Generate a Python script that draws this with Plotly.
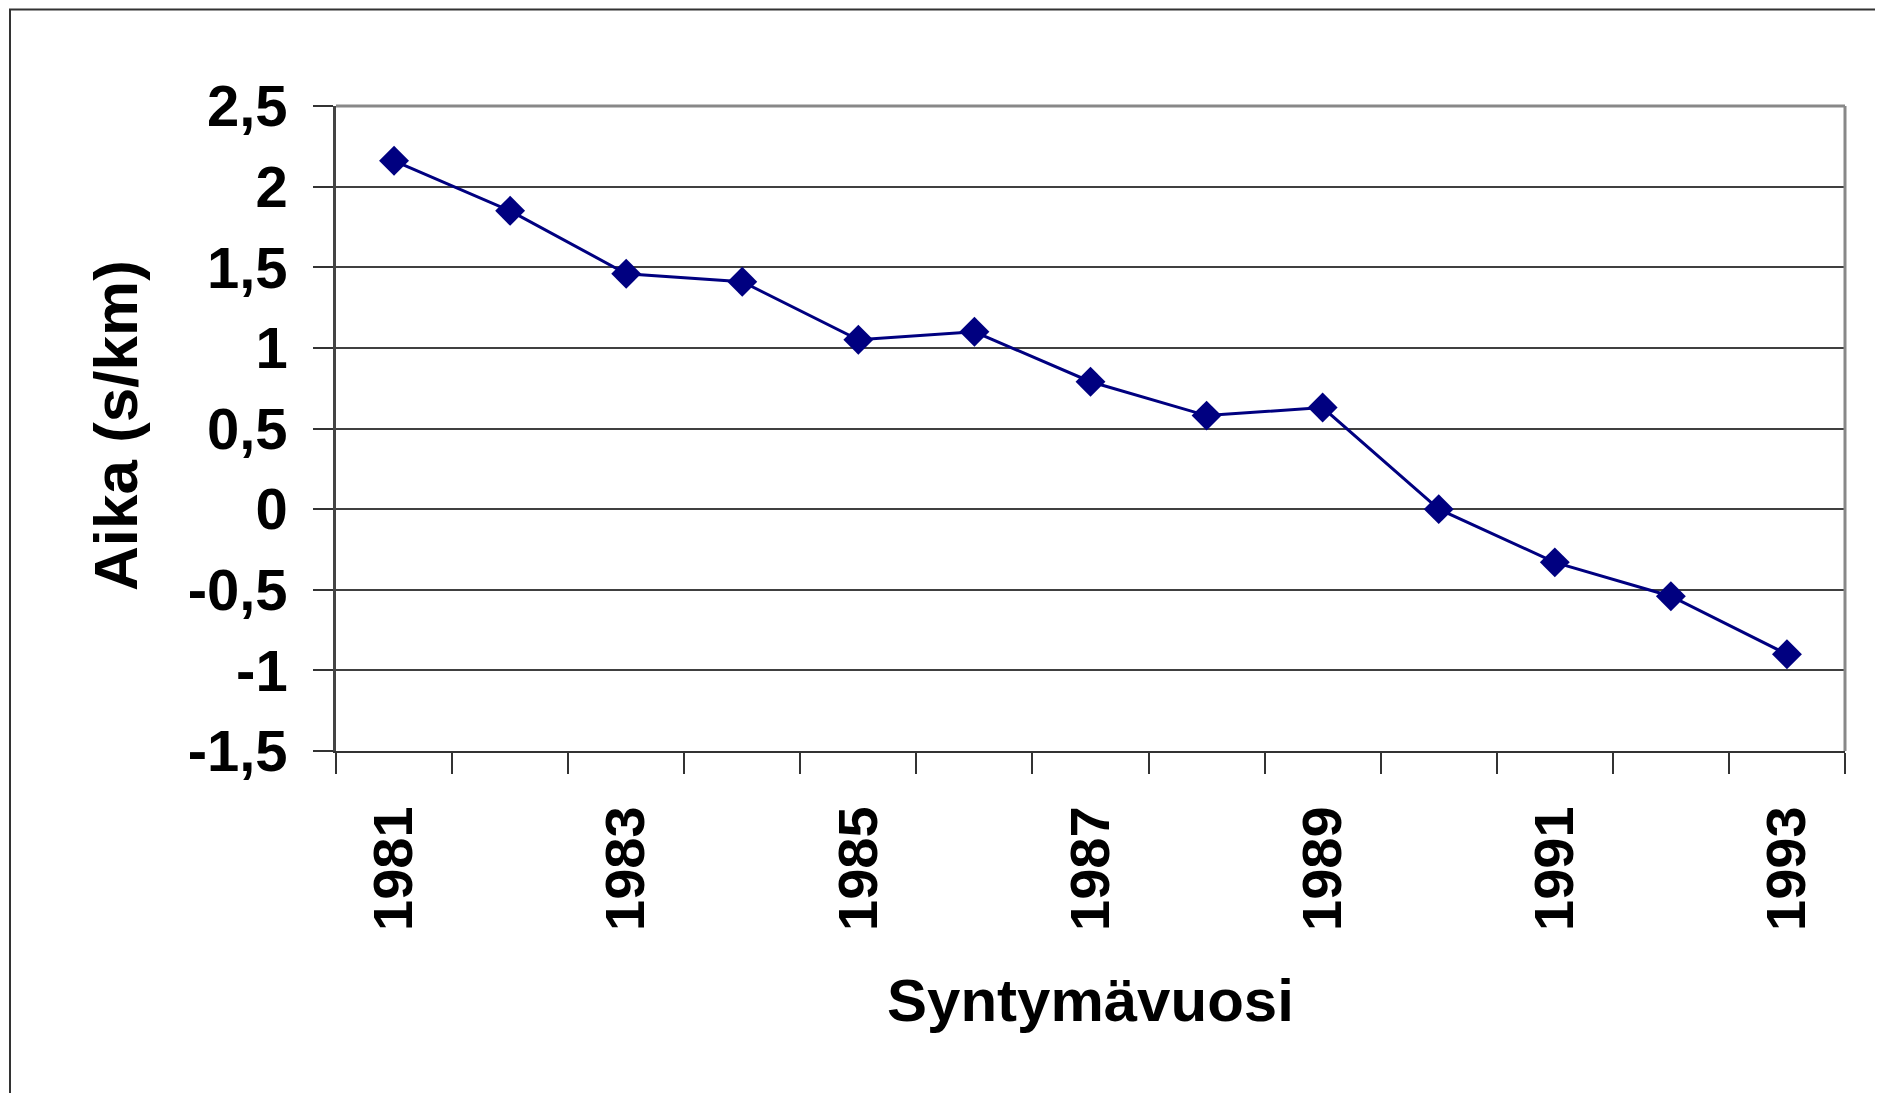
import plotly.graph_objects as go

# Data
years = [1981, 1982, 1983, 1984, 1985, 1986, 1987, 1988, 1989, 1990, 1991, 1992, 1993]
aika = [2.16, 1.85, 1.46, 1.41, 1.05, 1.10, 0.79, 0.58, 0.63, 0.00, -0.33, -0.54, -0.90]
x_label_years = [1981, 1983, 1985, 1987, 1989, 1991, 1993]
y_tick_vals = [2.5, 2, 1.5, 1, 0.5, 0, -0.5, -1, -1.5]
y_tick_text = ["2,5", "2", "1,5", "1", "0,5", "0", "-0,5", "-1", "-1,5"]
x_title = "Syntymävuosi"
y_title = "Aika (s/km)"

FONT = "Arial, 'Liberation Sans', sans-serif"
NAVY = "#000080"

# page is 1883x1101; the html body has an 8px margin
W, H = 1883, 1101
OFF = 8
FW, FH = W - 2 * OFF, H - 2 * OFF
# target plot-area edges in page pixels
L, R, T, B = 336, 1845, 106, 751

fig = go.Figure()
fig.add_trace(go.Scatter(
    x=years, y=aika, mode="lines+markers",
    line=dict(color=NAVY, width=3),
    marker=dict(symbol="diamond", size=23, color=NAVY),
    showlegend=False, cliponaxis=False,
))

boundaries = [y - 0.5 for y in years] + [years[-1] + 0.5]

fig.update_layout(
    width=FW, height=FH,
    margin=dict(l=L - OFF, r=FW - (R - OFF), t=T - OFF, b=FH - (B - OFF), pad=0),
    paper_bgcolor="white", plot_bgcolor="white",
    font=dict(family=FONT, color="black"),
    xaxis=dict(
        range=[years[0] - 0.5, years[-1] + 0.5],
        tickmode="array", tickvals=x_label_years,
        ticktext=[str(v) for v in x_label_years],
        tickangle=-90, ticks="",
        ticklabelstandoff=31,
        tickfont=dict(size=56, family=FONT, weight="bold", color="black"),
        showgrid=False, zeroline=False,
        showline=True, linecolor="#333333", linewidth=2,
        minor=dict(tickmode="array", tickvals=boundaries, ticks="outside",
                   ticklen=21, tickwidth=1.5, tickcolor="#333333", showgrid=False),
    ),
    yaxis=dict(
        range=[-1.5, 2.5],
        tickmode="array", tickvals=y_tick_vals, ticktext=y_tick_text,
        ticks="outside", ticklen=20, tickwidth=1.5, tickcolor="#333333",
        ticklabelstandoff=14,
        tickfont=dict(size=58, family=FONT, weight="bold", color="black"),
        showgrid=True, gridcolor="#404040", gridwidth=1.5,
        zeroline=False,
        showline=True, linecolor="#444444", linewidth=2.5,
    ),
    annotations=[
        dict(text=x_title, xref="paper", yref="paper",
             x=0.5, y=(B - 1000) / (B - T), xanchor="center", yanchor="middle",
             showarrow=False,
             font=dict(size=60, family=FONT, weight="bold", color="black")),
        dict(text=y_title, xref="paper", yref="paper",
             x=(115 - L) / (R - L), y=(B - 425) / (B - T), xanchor="center", yanchor="middle",
             textangle=-90, showarrow=False,
             font=dict(size=62, family=FONT, weight="bold", color="black")),
    ],
    shapes=[
        # plot area top and right border (gray)
        dict(type="line", xref="paper", yref="paper", x0=0, x1=1, y0=1, y1=1,
             line=dict(color="#888888", width=3)),
        dict(type="line", xref="paper", yref="paper", x0=1, x1=1, y0=0, y1=1,
             line=dict(color="#888888", width=3)),
        # outer chart border (left and top visible, the rest falls outside the page)
        dict(type="rect", xref="paper", yref="paper",
             x0=(10 - L) / (R - L), x1=(W + 40 - L) / (R - L),
             y0=(B - (H + 40)) / (B - T), y1=(B - 9.5) / (B - T),
             line=dict(color="#333333", width=2), layer="below"),
    ],
)

fig.write_html("out.html")
